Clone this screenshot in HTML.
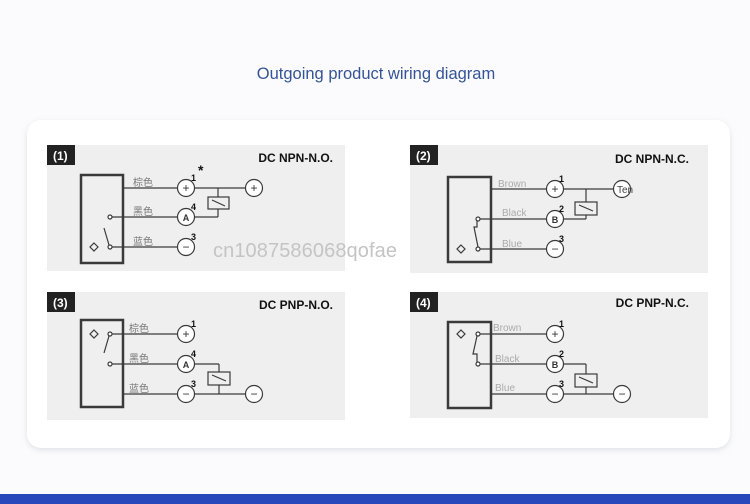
<!DOCTYPE html>
<html><head><meta charset="utf-8"><style>
html,body{margin:0;padding:0;background:#fbfbfd;}
body{width:750px;height:504px;overflow:hidden;position:relative;font-family:"Liberation Sans","Noto Sans CJK SC",sans-serif;}
</style></head><body>
<svg width="750" height="504" viewBox="0 0 750 504" xmlns="http://www.w3.org/2000/svg" style="position:absolute;left:0;top:0">
<defs><filter id="sh" x="-5%" y="-5%" width="110%" height="115%"><feDropShadow dx="0" dy="2" stdDeviation="3" flood-color="#9aa4b4" flood-opacity="0.3"/></filter></defs>
<rect width="750" height="504" fill="#fbfbfd"/>
<text x="376" y="79" text-anchor="middle" font-size="16.5" fill="#34549a" font-family="Liberation Sans,sans-serif">Outgoing product wiring diagram</text>
<rect x="27" y="120" width="703" height="328" rx="14" fill="#fff" filter="url(#sh)"/>
<rect x="0" y="494" width="750" height="10" fill="#2747bb"/>

<g stroke="#3a3a3a" fill="none" stroke-width="1.2" font-family="Liberation Sans,sans-serif">
<!-- Panel 1 -->
<rect x="47" y="145" width="298" height="126" fill="#efefef" stroke="none"/>
<rect x="47" y="145" width="28" height="20" fill="#222" stroke="none"/>
<rect x="81" y="175" width="42" height="88" stroke-width="2.5"/>
<line x1="123" y1="188" x2="178" y2="188"/><line x1="194" y1="188" x2="246" y2="188"/>
<line x1="110" y1="217" x2="178" y2="217"/><line x1="194" y1="217" x2="218" y2="217"/><line x1="218" y1="217" x2="218" y2="209"/><line x1="218" y1="188" x2="218" y2="197"/>
<line x1="110" y1="247" x2="178" y2="247"/>
<rect x="208" y="197" width="21" height="12" fill="#efefef"/><line x1="212" y1="200" x2="225" y2="206"/>
<circle cx="186" cy="188" r="8.5" fill="#fff"/><circle cx="186" cy="217" r="8.5" fill="#fff"/><circle cx="186" cy="247" r="8.5" fill="#fff"/><circle cx="254" cy="188" r="8.5" fill="#fff"/>
<circle cx="110" cy="217" r="2" fill="#fff"/><circle cx="110" cy="247" r="2" fill="#fff"/><line x1="104" y1="228" x2="109" y2="245"/>
<path d="M94 243 l4 4 -4 4 -4 -4z"/>
<!-- Panel 2 -->
<rect x="410" y="145" width="298" height="128" fill="#efefef" stroke="none"/>
<rect x="410" y="145" width="28" height="20" fill="#222" stroke="none"/>
<rect x="448" y="177" width="43" height="85" stroke-width="2.5"/>
<line x1="491" y1="189" x2="547" y2="189"/><line x1="563" y1="189" x2="614" y2="189"/>
<line x1="478" y1="219" x2="547" y2="219"/><line x1="563" y1="219" x2="586" y2="219"/><line x1="586" y1="219" x2="586" y2="215"/><line x1="586" y1="189" x2="586" y2="202"/>
<line x1="478" y1="249" x2="547" y2="249"/>
<rect x="575" y="202" width="22" height="13" fill="#efefef"/><line x1="579" y1="205" x2="593" y2="211"/>
<circle cx="555" cy="189" r="8.5" fill="#fff"/><circle cx="555" cy="219" r="8.5" fill="#fff"/><circle cx="555" cy="249" r="8.5" fill="#fff"/><circle cx="622" cy="189" r="8.5" fill="#fff"/>
<circle cx="478" cy="219" r="2" fill="#fff"/><circle cx="478" cy="249" r="2" fill="#fff"/><polyline points="477,221 477,227 474,227 478,247"/>
<path d="M461 245 l4 4 -4 4 -4 -4z"/>
<!-- Panel 3 -->
<rect x="47" y="292" width="298" height="128" fill="#efefef" stroke="none"/>
<rect x="47" y="292" width="28" height="20" fill="#222" stroke="none"/>
<rect x="81" y="320" width="42" height="87" stroke-width="2.5"/>
<line x1="110" y1="334" x2="178" y2="334"/>
<line x1="110" y1="364" x2="178" y2="364"/><line x1="194" y1="364" x2="219" y2="364"/><line x1="219" y1="364" x2="219" y2="372"/><line x1="219" y1="385" x2="219" y2="394"/>
<line x1="123" y1="394" x2="178" y2="394"/><line x1="194" y1="394" x2="246" y2="394"/>
<rect x="208" y="372" width="22" height="13" fill="#efefef"/><line x1="212" y1="375" x2="226" y2="381"/>
<circle cx="186" cy="334" r="8.5" fill="#fff"/><circle cx="186" cy="364" r="8.5" fill="#fff"/><circle cx="186" cy="394" r="8.5" fill="#fff"/><circle cx="254" cy="394" r="8.5" fill="#fff"/>
<circle cx="110" cy="334" r="2" fill="#fff"/><circle cx="110" cy="364" r="2" fill="#fff"/><line x1="109" y1="336" x2="104" y2="353"/>
<path d="M94 330 l4 4 -4 4 -4 -4z"/>
<!-- Panel 4 -->
<rect x="410" y="292" width="298" height="126" fill="#efefef" stroke="none"/>
<rect x="410" y="292" width="28" height="20" fill="#222" stroke="none"/>
<rect x="448" y="322" width="43" height="86" stroke-width="2.5"/>
<line x1="478" y1="334" x2="547" y2="334"/>
<line x1="478" y1="364" x2="547" y2="364"/><line x1="563" y1="364" x2="586" y2="364"/><line x1="586" y1="364" x2="586" y2="374"/><line x1="586" y1="387" x2="586" y2="394"/>
<line x1="491" y1="394" x2="547" y2="394"/><line x1="563" y1="394" x2="614" y2="394"/>
<rect x="575" y="374" width="22" height="13" fill="#efefef"/><line x1="579" y1="377" x2="593" y2="383"/>
<circle cx="555" cy="334" r="8.5" fill="#fff"/><circle cx="555" cy="364" r="8.5" fill="#fff"/><circle cx="555" cy="394" r="8.5" fill="#fff"/><circle cx="622" cy="394" r="8.5" fill="#fff"/>
<circle cx="478" cy="334" r="2" fill="#fff"/><circle cx="478" cy="364" r="2" fill="#fff"/><polyline points="477,336 473,354 477,354 477,362"/>
<path d="M461 330 l4 4 -4 4 -4 -4z"/>
</g>

<g font-family="Liberation Sans,sans-serif" fill="#fff" font-weight="bold" font-size="12">
<text x="53" y="160">(1)</text><text x="416" y="160">(2)</text><text x="53" y="307">(3)</text><text x="416" y="307">(4)</text>
</g>
<g font-family="Liberation Sans,sans-serif" fill="#111" font-weight="bold" font-size="12" text-anchor="end">
<text x="333" y="162">DC NPN-N.O.</text><text x="689" y="163">DC NPN-N.C.</text>
<text x="333" y="309">DC PNP-N.O.</text><text x="689" y="307">DC PNP-N.C.</text>
</g>
<g font-family="Liberation Sans,sans-serif" fill="#111" font-weight="bold" font-size="9">
<text x="191" y="181">1</text><text x="191" y="210">4</text><text x="191" y="240">3</text><text x="198" y="175" font-size="14">*</text>
<text x="559" y="182">1</text><text x="559" y="212">2</text><text x="559" y="242">3</text>
<text x="191" y="327">1</text><text x="191" y="357">4</text><text x="191" y="387">3</text>
<text x="559" y="327">1</text><text x="559" y="357">2</text><text x="559" y="387">3</text>
</g>
<g font-family="Liberation Sans,sans-serif" fill="#333" font-size="12" text-anchor="middle">
<text x="186" y="192">+</text><text x="186" y="221" font-size="9" font-weight="bold">A</text><text x="186" y="251">−</text><text x="254" y="192">+</text>
<text x="555" y="193">+</text><text x="555" y="223" font-size="9" font-weight="bold">B</text><text x="555" y="253">−</text>
<text x="186" y="338">+</text><text x="186" y="368" font-size="9" font-weight="bold">A</text><text x="186" y="398">−</text><text x="254" y="398">−</text>
<text x="555" y="338">+</text><text x="555" y="368" font-size="9" font-weight="bold">B</text><text x="555" y="398">−</text><text x="622" y="398">−</text>
</g>
<text x="617" y="193" font-size="10" fill="#444" font-family="Liberation Sans,sans-serif">Ten</text>
<g font-family="Liberation Sans,'Noto Sans CJK SC',sans-serif" fill="#777" font-size="10">
<text x="133" y="186">棕色</text><text x="133" y="215">黑色</text><text x="133" y="245">蓝色</text>
<text x="129" y="332">棕色</text><text x="129" y="362">黑色</text><text x="129" y="392">蓝色</text>
</g>
<g font-family="Liberation Sans,sans-serif" fill="#aaa" font-size="10">
<text x="498" y="187">Brown</text><text x="502" y="216">Black</text><text x="502" y="247">Blue</text>
<text x="493" y="331">Brown</text><text x="495" y="362">Black</text><text x="495" y="391">Blue</text>
</g>
<text x="213" y="257" font-size="20" fill="#c4c4c4" font-family="Liberation Sans,sans-serif" textLength="184">cn1087586068qofae</text>
</svg>
</body></html>
